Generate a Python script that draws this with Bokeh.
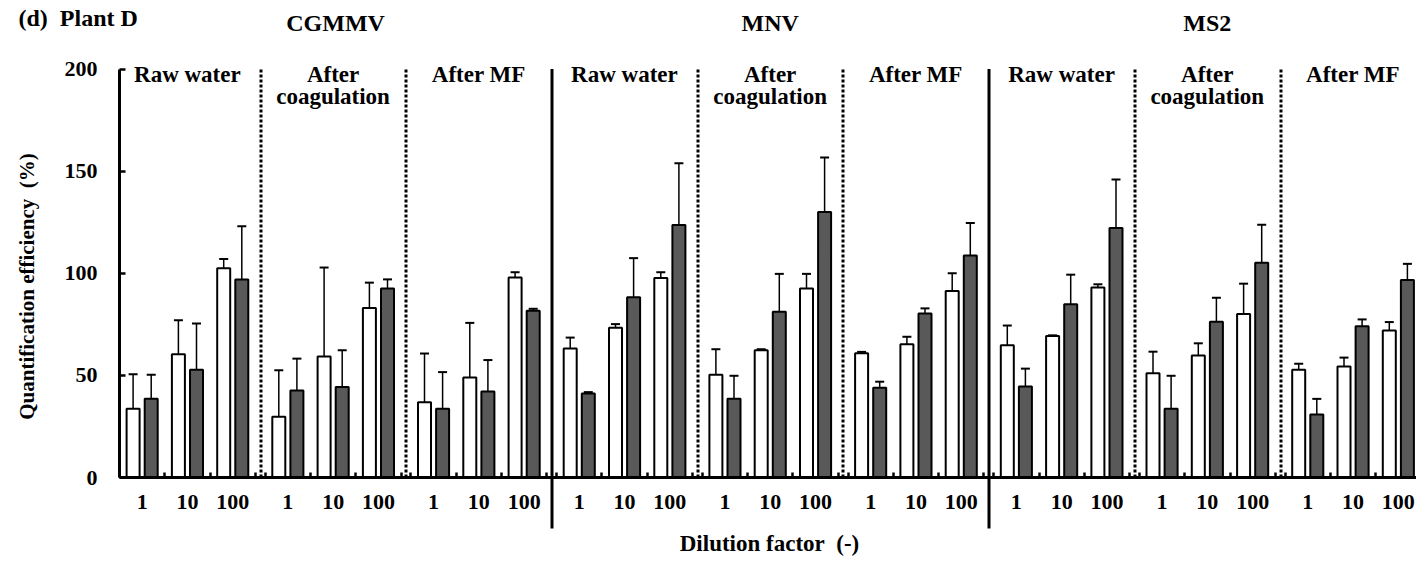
import numpy as np
from bokeh.plotting import figure
from bokeh.models import (ColumnDataSource, Range1d, FixedTicker, Label, Whisker,
                          TeeHead)
from bokeh.embed import file_html
from bokeh.resources import INLINE

# ---------------- data ----------------
viruses = ["CGMMV", "MNV", "MS2"]
stages = ["Raw water", "After coagulation", "After MF"]
dilutions = ["1", "10", "100"]

# order: virus -> stage -> dilution (1, 10, 100)
white_mean = [33.6, 60.3, 102.5,  29.7, 59.3, 83.0,  36.9, 49.0, 97.9,
              63.1, 73.3, 97.7,   50.3, 62.3, 92.5,  60.8, 65.2, 91.3,
              64.8, 69.3, 93.0,   51.0, 59.7, 80.0,  52.8, 54.3, 72.0]
white_low = [16.4, 43.8, 98.0,   7.0, 15.6, 70.0,   18.5, 33.3, 96.3,
             57.5, 71.5, 94.8,   37.5, 61.8, 84.9,  60.2, 61.8, 82.3,
             54.9, 69.0, 91.0,   40.3, 53.1, 65.0,  50.0, 49.8, 68.0]
white_high = [50.5, 77.0, 107.0,  52.5, 102.8, 95.4,  60.7, 75.7, 100.5,
              68.5, 75.1, 100.5,  62.8, 62.8, 99.7,   61.5, 68.9, 100.0,
              74.4, 69.6, 94.6,   61.6, 65.7, 94.9,   55.7, 58.7, 76.1]
dark_mean = [38.5, 52.8, 97.0,   42.6, 44.3, 92.5,  33.6, 42.1, 81.6,
             41.1, 88.2, 123.6,  38.5, 81.1, 130.0, 43.9, 80.3, 108.7,
             44.6, 84.8, 122.1,  33.6, 76.2, 105.2, 30.8, 74.1, 96.7]
dark_low = [27.0, 29.5, 70.5,   27.0, 25.9, 87.0,  15.6, 27.0, 80.6,
            40.5, 68.4, 93.1,   27.0, 61.8, 103.0, 41.0, 78.0, 93.0,
            35.2, 70.2, 98.0,   17.5, 64.8, 86.4,  22.6, 70.2, 88.4]
dark_high = [50.3, 75.4, 123.0,  58.2, 62.3, 97.0,   51.6, 57.5, 82.6,
             41.8, 107.4, 153.8, 49.8, 99.7, 156.7,  46.9, 82.8, 124.6,
             53.3, 99.3, 145.9,  49.8, 88.0, 123.8,  38.5, 77.4, 104.6]

y_ticks = [0, 50, 100, 150, 200]

# ---------------- layout ----------------
FONT = "Liberation Serif"
NB2 = "\u00a0\u00a0"                # double space that SVG keeps
W, H = 1416, 561
X_AXIS = 119.0                      # x of the y axis (pixels == data units)
ZERO_SY, TOP_SY = 477.0, 68.5       # screen y of values 0 and 200
PX = (ZERO_SY - TOP_SY) / 200.0
SEC0, SEC_W, GRP_W = 114.0, 145.7, 45.3
BAR_OFF, BAR_W = 9.05, 13


def yv(sy):
    return (ZERO_SY - sy) / PX


def sec_left(k):
    return SEC0 + SEC_W * k


def snap(x):
    return round(x) + 0.5


gcs = []
for i in range(27):
    k = i // 3
    d = i % 3
    gcs.append(round(sec_left(k) + 5 + GRP_W * (d + 0.5), 2))

src_w = ColumnDataSource(dict(x=[g - BAR_OFF for g in gcs], top=white_mean,
                              lo=white_low, hi=white_high))
src_d = ColumnDataSource(dict(x=[g + BAR_OFF for g in gcs], top=dark_mean,
                              lo=dark_low, hi=dark_high))

p = figure(width=W, height=H, output_backend="svg", toolbar_location=None,
           x_range=Range1d(0, W), y_range=Range1d(yv(H), yv(0)),
           min_border=0, min_border_left=0, min_border_right=0,
           min_border_top=0, min_border_bottom=0)
p.outline_line_color = None
p.xgrid.visible = False
p.ygrid.visible = False
p.background_fill_color = "white"
p.border_fill_color = "white"

# bars
p.vbar(x="x", top="top", bottom=0, width=BAR_W, source=src_w,
       fill_color="white", line_color="black", line_width=2)
p.vbar(x="x", top="top", bottom=0, width=BAR_W, source=src_d,
       fill_color="#595959", line_color="black", line_width=2)

for src in (src_w, src_d):
    p.add_layout(Whisker(source=src, base="x", upper="hi", lower="lo",
                         dimension="height", line_width=1.5, line_color="black",
                         upper_head=TeeHead(size=9, line_width=2, line_color="black"),
                         lower_head=TeeHead(size=9, line_width=2, line_color="black")))

# dotted separators (between stages)
dot_x = [snap(sec_left(k)) for k in (1, 2, 4, 5, 7, 8)]
p.segment(x0=dot_x, y0=[0] * 6, x1=dot_x, y1=[200] * 6, line_color="black",
          line_width=3, line_dash="3 2")

# solid separators (between viruses), extending below the axis
sol_x = [snap(sec_left(k)) for k in (3, 6)]
p.segment(x0=sol_x, y0=[200] * 2, x1=sol_x, y1=[yv(528)] * 2,
          line_color="black", line_width=3)

# axes placed inside the frame
ax = p.xaxis[0]
ax.fixed_location = 0
ax.bounds = (X_AXIS, W)
minor = [sec_left(k) + 5 + GRP_W * j for k in range(9) for j in range(4)]
ax.ticker = FixedTicker(ticks=gcs, minor_ticks=minor)
ax.major_label_overrides = {g: dilutions[i % 3] for i, g in enumerate(gcs)}
ax.major_tick_in = 0
ax.major_tick_out = 0
ax.minor_tick_in = 5
ax.minor_tick_out = 0
ax.minor_tick_line_width = 2.5
ax.minor_tick_line_color = "black"
ax.axis_line_width = 3
ax.axis_line_color = "black"
ax.major_label_text_font = FONT
ax.major_label_text_font_style = "bold"
ax.major_label_text_font_size = "22px"
ax.major_label_text_color = "black"
ax.major_label_standoff = 17

ay = p.yaxis[0]
ay.fixed_location = X_AXIS
ay.bounds = (0, 200)
ay.ticker = FixedTicker(ticks=y_ticks, minor_ticks=[])
ay.major_tick_in = 6
ay.major_tick_out = 0
ay.major_tick_line_width = 2.5
ay.major_tick_line_color = "black"
ay.minor_tick_line_color = None
ay.axis_line_width = 3
ay.axis_line_color = "black"
ay.major_label_text_font = FONT
ay.major_label_text_font_style = "bold"
ay.major_label_text_font_size = "22px"
ay.major_label_text_color = "black"
ay.major_label_standoff = 22


def lab(text, x, sy, align="center", baseline="middle", size="22px", angle=0):
    p.add_layout(Label(x=x, y=yv(sy), text=text, text_align=align,
                       text_baseline=baseline, text_font=FONT,
                       text_font_style="bold", text_font_size=size,
                       text_color="black", angle=angle))


lab("(d)" + NB2 + "Plant D", 18, 17, align="left", baseline="alphabetic", size="24px")

for v, name in enumerate(viruses):
    left = X_AXIS if v == 0 else sec_left(3 * v)
    cx = (left + sec_left(3 * v + 3)) / 2
    lab(name, cx, 22, size="24px")

for k in range(9):
    cx = sec_left(k) + SEC_W / 2
    st = stages[k % 3]
    if st == "After coagulation":
        lab("After", cx, 74, size="23px")
        lab("coagulation", cx, 96, size="23px")
    else:
        lab(st, cx, 74, size="23px")

lab("Quantification efficiency" + NB2 + "(%)", 26, 286, angle=np.pi / 2, size="21px")
lab("Dilution factor" + NB2 + "(-)", 769, 543, size="23px")

open("out.html", "w").write(file_html(p, INLINE))
